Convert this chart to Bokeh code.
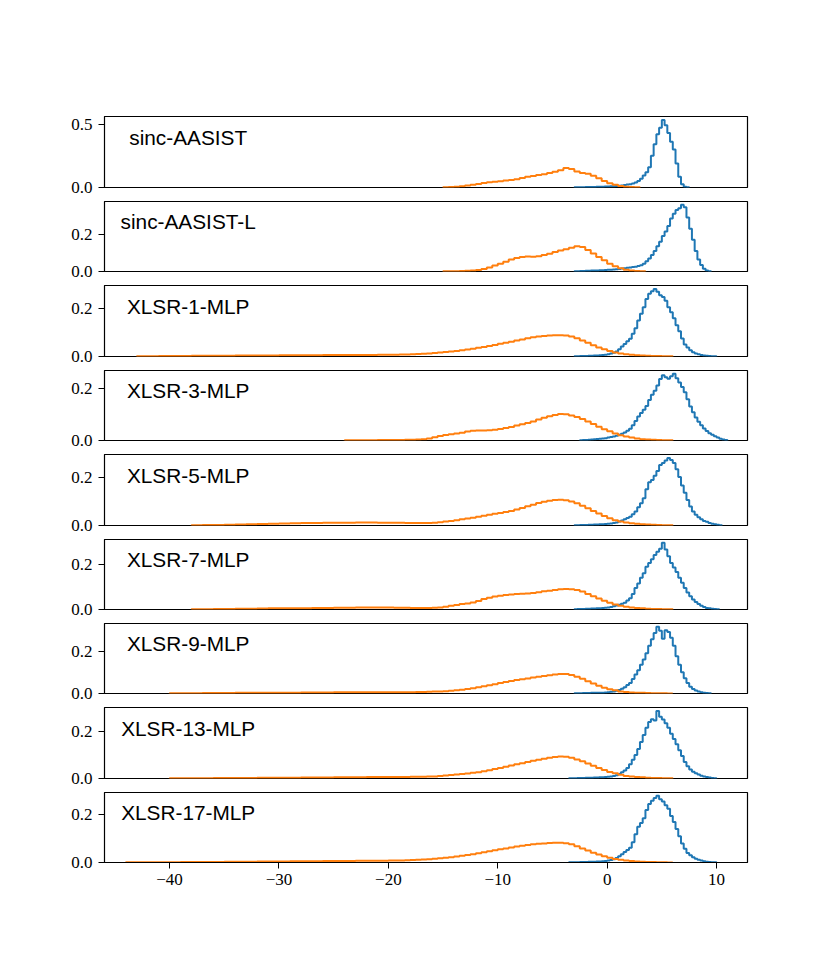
from bokeh.plotting import figure
from bokeh.layouts import column
from bokeh.models import Range1d, FixedTicker, CustomJSTickFormatter, Label
from bokeh.embed import file_html
from bokeh.resources import INLINE

# ---------------- data ----------------
labels = ["sinc-AASIST", "sinc-AASIST-L", "XLSR-1-MLP", "XLSR-3-MLP", "XLSR-5-MLP",
          "XLSR-7-MLP", "XLSR-9-MLP", "XLSR-13-MLP", "XLSR-17-MLP"]

x_ticks = [-40, -30, -20, -10, 0, 10]
y_ticks = [[0.0, 0.5], [0.0, 0.2], [0.0, 0.2], [0.0, 0.2], [0.0, 0.2],
           [0.0, 0.2], [0.0, 0.2], [0.0, 0.2], [0.0, 0.2]]

# bona fide score histograms (blue), bin width 0.25, first edge in blue_start
blue_bin = 0.25
blue_start = [-3.0, -3.0, -3.0, -2.5, -3.0, -3.0, -3.0, -3.5, -3.5]
blue_1 = [0.001, 0.001, 0.002, 0.002, 0.003, 0.003, 0.004, 0.004, 0.005, 0.005, 0.006, 0.007,
          0.008, 0.009, 0.010, 0.012, 0.014, 0.016, 0.019, 0.023, 0.026, 0.032, 0.040, 0.052,
          0.068, 0.095, 0.120, 0.160, 0.250, 0.340, 0.420, 0.470, 0.533, 0.490, 0.430, 0.360,
          0.300, 0.190, 0.085, 0.025, 0.006, 0.001]
blue_2 = [0.002, 0.002, 0.003, 0.003, 0.004, 0.004, 0.005, 0.005, 0.006, 0.007, 0.007, 0.008,
          0.009, 0.010, 0.011, 0.012, 0.014, 0.016, 0.018, 0.020, 0.022, 0.024, 0.026, 0.029,
          0.034, 0.042, 0.055, 0.070, 0.088, 0.110, 0.135, 0.160, 0.190, 0.215, 0.245, 0.285,
          0.310, 0.330, 0.340, 0.358, 0.345, 0.290, 0.230, 0.170, 0.110, 0.065, 0.035, 0.015,
          0.006, 0.002]
blue_3 = [0.001, 0.001, 0.002, 0.002, 0.002, 0.003, 0.003, 0.004, 0.004, 0.005, 0.006, 0.007,
          0.009, 0.012, 0.016, 0.021, 0.030, 0.042, 0.052, 0.064, 0.074, 0.095, 0.118, 0.150,
          0.178, 0.205, 0.240, 0.262, 0.272, 0.282, 0.270, 0.255, 0.248, 0.232, 0.205, 0.185,
          0.160, 0.130, 0.105, 0.075, 0.050, 0.038, 0.026, 0.018, 0.012, 0.009, 0.006, 0.004,
          0.003, 0.002, 0.001, 0.001]
blue_4 = [0.001, 0.002, 0.002, 0.003, 0.004, 0.005, 0.006, 0.007, 0.008, 0.009, 0.011, 0.013,
          0.015, 0.018, 0.022, 0.026, 0.031, 0.037, 0.045, 0.058, 0.075, 0.092, 0.105, 0.118,
          0.132, 0.155, 0.175, 0.190, 0.210, 0.235, 0.250, 0.242, 0.236, 0.246, 0.255, 0.238,
          0.222, 0.205, 0.185, 0.158, 0.130, 0.108, 0.088, 0.072, 0.058, 0.046, 0.036, 0.028,
          0.022, 0.016, 0.011, 0.007, 0.004, 0.002]
blue_5 = [0.001, 0.001, 0.002, 0.002, 0.002, 0.003, 0.003, 0.004, 0.004, 0.005, 0.005, 0.006,
          0.007, 0.008, 0.010, 0.012, 0.016, 0.021, 0.026, 0.031, 0.036, 0.046, 0.058, 0.075,
          0.092, 0.112, 0.150, 0.178, 0.188, 0.205, 0.225, 0.250, 0.258, 0.268, 0.279, 0.270,
          0.258, 0.232, 0.200, 0.165, 0.135, 0.105, 0.078, 0.058, 0.044, 0.034, 0.026, 0.019,
          0.015, 0.010, 0.007, 0.005, 0.003, 0.001]
blue_6 = [0.001, 0.002, 0.002, 0.002, 0.003, 0.003, 0.004, 0.004, 0.005, 0.006, 0.007, 0.008,
          0.009, 0.011, 0.014, 0.018, 0.021, 0.025, 0.030, 0.040, 0.050, 0.068, 0.095, 0.115,
          0.140, 0.160, 0.188, 0.205, 0.222, 0.240, 0.255, 0.268, 0.294, 0.265, 0.235, 0.205,
          0.185, 0.165, 0.140, 0.118, 0.095, 0.075, 0.058, 0.044, 0.033, 0.024, 0.016, 0.011,
          0.007, 0.005, 0.003, 0.002, 0.001]
blue_7 = [0.001, 0.001, 0.001, 0.002, 0.002, 0.002, 0.003, 0.003, 0.003, 0.004, 0.004, 0.005,
          0.006, 0.008, 0.010, 0.013, 0.017, 0.022, 0.030, 0.040, 0.050, 0.068, 0.090, 0.110,
          0.135, 0.160, 0.190, 0.225, 0.255, 0.285, 0.314, 0.296, 0.258, 0.298, 0.290, 0.262,
          0.225, 0.175, 0.135, 0.100, 0.072, 0.050, 0.032, 0.021, 0.014, 0.009, 0.006, 0.004,
          0.002, 0.001]
blue_8 = [0.001, 0.001, 0.001, 0.002, 0.002, 0.002, 0.003, 0.003, 0.003, 0.004, 0.004, 0.005,
          0.005, 0.006, 0.007, 0.009, 0.011, 0.014, 0.019, 0.026, 0.034, 0.045, 0.060, 0.080,
          0.100, 0.125, 0.155, 0.185, 0.215, 0.240, 0.252, 0.246, 0.287, 0.262, 0.250, 0.235,
          0.215, 0.190, 0.168, 0.145, 0.120, 0.095, 0.070, 0.052, 0.038, 0.029, 0.022, 0.017,
          0.012, 0.008, 0.006, 0.004, 0.002, 0.001]
blue_9 = [0.001, 0.001, 0.001, 0.001, 0.002, 0.002, 0.002, 0.003, 0.003, 0.003, 0.004, 0.004,
          0.005, 0.006, 0.008, 0.010, 0.014, 0.019, 0.026, 0.035, 0.044, 0.052, 0.062, 0.085,
          0.118, 0.150, 0.165, 0.185, 0.220, 0.245, 0.258, 0.270, 0.279, 0.265, 0.255, 0.240,
          0.225, 0.195, 0.170, 0.140, 0.110, 0.080, 0.058, 0.040, 0.030, 0.022, 0.016, 0.011,
          0.008, 0.005, 0.003, 0.002, 0.001, 0.001]
blue_values = [blue_1, blue_2, blue_3, blue_4, blue_5, blue_6, blue_7, blue_8, blue_9]

# spoof score histograms (orange): far tail with bin width 1, main part with bin width 0.5
tail_bin = 1.0
main_bin = 0.5
tail_start = [None, None, -43.0, None, -38.0, -38.0, -40.0, -40.0, -44.0]
main_start = [-15.0, -15.0, -20.0, -24.0, -20.0, -20.0, -20.0, -20.0, -20.0]

orange_tail_3 = [0.001, 0.001, 0.002, 0.002, 0.002, 0.003, 0.003, 0.003, 0.003, 0.004, 0.004, 0.004,
                 0.004, 0.005, 0.005, 0.005, 0.005, 0.006, 0.006, 0.006, 0.006, 0.006, 0.007]
orange_tail_5 = [0.001, 0.002, 0.002, 0.003, 0.004, 0.005, 0.006, 0.007, 0.008, 0.009, 0.010, 0.010,
                 0.011, 0.011, 0.011, 0.012, 0.012, 0.011]
orange_tail_6 = [0.001, 0.001, 0.002, 0.002, 0.003, 0.003, 0.004, 0.005, 0.005, 0.006, 0.006, 0.007,
                 0.007, 0.008, 0.008, 0.009, 0.009, 0.009]
orange_tail_7 = [0.001, 0.001, 0.001, 0.002, 0.002, 0.002, 0.003, 0.003, 0.003, 0.004, 0.004, 0.004,
                 0.005, 0.005, 0.005, 0.006, 0.006, 0.006, 0.006, 0.006]
orange_tail_8 = [0.001, 0.001, 0.001, 0.001, 0.002, 0.002, 0.002, 0.002, 0.003, 0.003, 0.003, 0.003,
                 0.004, 0.004, 0.004, 0.005, 0.005, 0.005, 0.006, 0.006]
orange_tail_9 = [0.001, 0.001, 0.001, 0.001, 0.001, 0.002, 0.002, 0.002, 0.002, 0.003, 0.003, 0.003,
                 0.004, 0.004, 0.004, 0.005, 0.005, 0.005, 0.006, 0.006, 0.006, 0.007, 0.007, 0.007]
orange_tails = [[], [], orange_tail_3, [], orange_tail_5, orange_tail_6, orange_tail_7,
                orange_tail_8, orange_tail_9]

orange_1 = [0.001, 0.003, 0.006, 0.010, 0.015, 0.021, 0.028, 0.036, 0.042, 0.046, 0.050, 0.055,
            0.060, 0.066, 0.074, 0.084, 0.090, 0.098, 0.104, 0.115, 0.124, 0.135, 0.154, 0.145,
            0.126, 0.114, 0.108, 0.092, 0.072, 0.052, 0.034, 0.022, 0.012, 0.006, 0.003, 0.001]
orange_2 = [0.001, 0.001, 0.002, 0.003, 0.004, 0.005, 0.008, 0.014, 0.022, 0.032, 0.042, 0.053,
            0.064, 0.073, 0.078, 0.080, 0.079, 0.082, 0.088, 0.095, 0.105, 0.113, 0.120, 0.128,
            0.136, 0.132, 0.115, 0.096, 0.078, 0.060, 0.042, 0.028, 0.018, 0.010, 0.005, 0.003,
            0.001]
orange_3 = [0.007, 0.007, 0.008, 0.008, 0.009, 0.010, 0.011, 0.013, 0.015, 0.017, 0.019, 0.021,
            0.023, 0.026, 0.029, 0.032, 0.036, 0.040, 0.044, 0.048, 0.053, 0.057, 0.062, 0.067,
            0.071, 0.076, 0.080, 0.083, 0.086, 0.088, 0.089, 0.089, 0.088, 0.083, 0.076, 0.067,
            0.057, 0.047, 0.038, 0.030, 0.023, 0.017, 0.012, 0.009, 0.007, 0.005, 0.004, 0.003,
            0.002, 0.002, 0.001, 0.001]
orange_4 = [0.001, 0.001, 0.001, 0.001, 0.001, 0.001, 0.002, 0.002, 0.002, 0.002, 0.002, 0.003,
            0.003, 0.004, 0.005, 0.008, 0.012, 0.017, 0.021, 0.024, 0.027, 0.030, 0.034, 0.037,
            0.038, 0.038, 0.039, 0.041, 0.044, 0.048, 0.052, 0.057, 0.062, 0.067, 0.073, 0.080,
            0.087, 0.093, 0.098, 0.101, 0.100, 0.096, 0.090, 0.082, 0.073, 0.063, 0.053, 0.043,
            0.035, 0.027, 0.020, 0.015, 0.011, 0.008, 0.005, 0.004, 0.003, 0.002, 0.001, 0.001]
orange_5 = [0.011, 0.011, 0.011, 0.010, 0.010, 0.010, 0.010, 0.010, 0.011, 0.013, 0.016, 0.019,
            0.022, 0.026, 0.029, 0.032, 0.036, 0.040, 0.044, 0.048, 0.052, 0.056, 0.060, 0.066,
            0.072, 0.079, 0.086, 0.093, 0.098, 0.102, 0.105, 0.106, 0.104, 0.099, 0.092, 0.082,
            0.071, 0.060, 0.049, 0.039, 0.030, 0.022, 0.016, 0.012, 0.009, 0.007, 0.005, 0.004,
            0.003, 0.002, 0.001, 0.001]
orange_6 = [0.009, 0.008, 0.008, 0.008, 0.007, 0.007, 0.007, 0.007, 0.008, 0.009, 0.012, 0.016,
            0.020, 0.024, 0.027, 0.031, 0.038, 0.046, 0.052, 0.057, 0.061, 0.064, 0.066, 0.068,
            0.070, 0.071, 0.073, 0.076, 0.080, 0.083, 0.086, 0.089, 0.090, 0.089, 0.086, 0.079,
            0.068, 0.058, 0.048, 0.039, 0.030, 0.022, 0.016, 0.012, 0.009, 0.007, 0.005, 0.003,
            0.002, 0.002, 0.001, 0.001]
orange_7 = [0.006, 0.006, 0.006, 0.006, 0.006, 0.007, 0.007, 0.008, 0.009, 0.010, 0.011, 0.013,
            0.015, 0.018, 0.021, 0.025, 0.029, 0.034, 0.039, 0.044, 0.049, 0.054, 0.059, 0.063,
            0.067, 0.071, 0.075, 0.079, 0.083, 0.086, 0.089, 0.092, 0.092, 0.087, 0.079, 0.069,
            0.058, 0.047, 0.036, 0.027, 0.020, 0.015, 0.010, 0.007, 0.005, 0.004, 0.003, 0.002,
            0.001, 0.001, 0.001, 0.000]
orange_8 = [0.006, 0.006, 0.006, 0.006, 0.007, 0.007, 0.007, 0.008, 0.009, 0.011, 0.013, 0.015,
            0.017, 0.019, 0.021, 0.024, 0.027, 0.031, 0.035, 0.040, 0.045, 0.050, 0.055, 0.060,
            0.065, 0.070, 0.075, 0.080, 0.084, 0.088, 0.091, 0.093, 0.092, 0.088, 0.081, 0.073,
            0.064, 0.054, 0.045, 0.036, 0.028, 0.022, 0.016, 0.011, 0.008, 0.006, 0.005, 0.003,
            0.002, 0.002, 0.001, 0.001]
orange_9 = [0.008, 0.008, 0.008, 0.009, 0.010, 0.011, 0.013, 0.014, 0.016, 0.018, 0.020, 0.022,
            0.025, 0.028, 0.031, 0.035, 0.039, 0.043, 0.047, 0.051, 0.055, 0.059, 0.063, 0.067,
            0.070, 0.073, 0.076, 0.078, 0.080, 0.082, 0.083, 0.083, 0.081, 0.076, 0.068, 0.059,
            0.050, 0.041, 0.033, 0.026, 0.020, 0.015, 0.011, 0.008, 0.006, 0.004, 0.003, 0.002,
            0.002, 0.001, 0.001, 0.000]
orange_values = [orange_1, orange_2, orange_3, orange_4, orange_5, orange_6, orange_7,
                 orange_8, orange_9]

# ---------------- helpers ----------------
def build_bins(segments):
    """segments: list of (start, width, values) -> (edges, values)"""
    edges, vals = [], []
    for start, width, v in segments:
        if not v:
            continue
        e = [start + i * width for i in range(len(v) + 1)]
        if edges:
            edges = edges[:-1]
        edges += e
        vals += list(v)
    return edges, vals


def step_xy(edges, vals):
    xs, ys = [edges[0]], [0.0]
    for i, v in enumerate(vals):
        xs += [edges[i], edges[i + 1]]
        ys += [v, v]
    xs.append(edges[-1])
    ys.append(0.0)
    return xs, ys


BLUE = "#1f77b4"
ORANGE = "#ff7f0e"
SERIF = "Liberation Serif"
SANS = "Liberation Sans"
TICK_FONT = "17px"

x_min, x_max = -45.95, 12.83

# figure geometry: (height, top border, bottom border)
geom = [(197, 116, 10), (84, 4, 10), (85, 4, 10), (84, 4, 10), (85, 4, 10),
        (84, 4, 10), (84, 4, 10), (85, 4, 10), (135, 4, 61)]

figs = []
n = len(labels)
for k in range(n):
    h, bt, bb = geom[k]
    be, bv = build_bins([(blue_start[k], blue_bin, blue_values[k])])
    oe, ov = build_bins([(tail_start[k], tail_bin, orange_tails[k]),
                         (main_start[k], main_bin, orange_values[k])])
    ymax = 1.05 * max(max(bv), max(ov))

    p = figure(width=810, height=h, output_backend="svg", toolbar_location=None,
               x_range=Range1d(x_min, x_max), y_range=Range1d(0, ymax),
               min_border_left=104, min_border_right=63,
               min_border_top=bt, min_border_bottom=bb)
    p.grid.visible = False
    p.outline_line_color = "black"
    p.outline_line_width = 1.2
    p.background_fill_color = "white"
    p.border_fill_color = "white"

    bx, by = step_xy(be, bv)
    ox, oy = step_xy(oe, ov)
    p.line(bx, by, line_color=BLUE, line_width=2)
    p.line(ox, oy, line_color=ORANGE, line_width=2)

    yax = p.yaxis[0]
    yax.ticker = FixedTicker(ticks=y_ticks[k])
    yax.formatter = CustomJSTickFormatter(code="return tick.toFixed(1);")
    yax.major_label_text_font = SERIF
    yax.major_label_text_font_size = TICK_FONT
    yax.major_label_text_color = "black"
    yax.major_tick_in = 0
    yax.major_tick_out = 6
    yax.major_tick_line_color = "black"
    yax.minor_tick_line_color = None
    yax.axis_line_color = "black"
    yax.major_label_standoff = 6

    xax = p.xaxis[0]
    if k < n - 1:
        xax.visible = False
    else:
        xax.ticker = FixedTicker(ticks=x_ticks)
        xax.formatter = CustomJSTickFormatter(
            code="return tick < 0 ? '\u2212' + Math.abs(tick) : '' + tick;")
        xax.major_label_text_font = SERIF
        xax.major_label_text_font_size = TICK_FONT
        xax.major_label_text_color = "black"
        xax.major_tick_in = 0
        xax.major_tick_out = 6
        xax.major_tick_line_color = "black"
        xax.minor_tick_line_color = None
        xax.axis_line_color = "black"
        xax.major_label_standoff = 5

    p.add_layout(Label(x=-38.3, y=0.71 * ymax, text=labels[k], text_align="center",
                       text_baseline="middle", text_font=SANS, text_font_size="20.8px",
                       text_color="black"))
    figs.append(p)

layout = column(*figs, spacing=0)
with open("out.html", "w", encoding="utf-8") as f:
    f.write(file_html(layout, INLINE))
